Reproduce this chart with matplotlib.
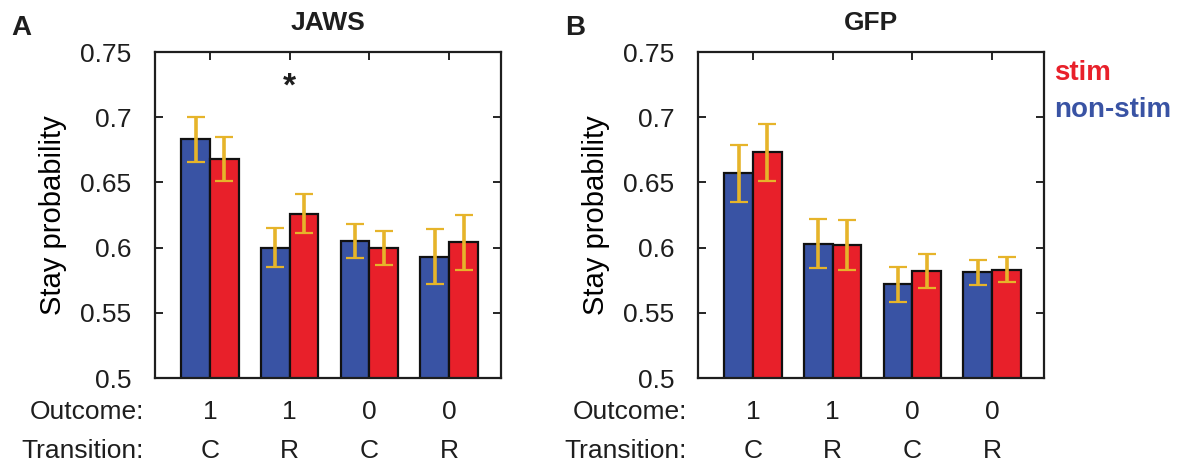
import matplotlib.pyplot as plt
import numpy as np

plt.rcParams['font.family'] = ['Liberation Sans', 'DejaVu Sans']
plt.rcParams['text.color'] = '#1e1e1e'
plt.rcParams['ytick.labelcolor'] = '#1e1e1e'

outcome = ['1', '1', '0', '0']
transition = ['C', 'R', 'C', 'R']
yticks = [0.5, 0.55, 0.6, 0.65, 0.7, 0.75]
ytick_labels = ['0.5', '0.55', '0.6', '0.65', '0.7', '0.75']

# JAWS panel
jaws_nonstim = [0.683, 0.600, 0.605, 0.593]
jaws_nonstim_err = [0.017, 0.015, 0.013, 0.021]
jaws_stim = [0.668, 0.626, 0.600, 0.604]
jaws_stim_err = [0.017, 0.015, 0.013, 0.021]

# GFP panel
gfp_nonstim = [0.657, 0.603, 0.572, 0.581]
gfp_nonstim_err = [0.022, 0.019, 0.0135, 0.0098]
gfp_stim = [0.673, 0.602, 0.582, 0.583]
gfp_stim_err = [0.022, 0.019, 0.013, 0.0095]

BLUE = '#3953a4'
RED = '#e8202a'
GOLD = '#e6b42a'
FS = 19


def panel(ax, nonstim, nonstim_err, stim, stim_err, title, letter, letter_x):
    x = np.arange(1, len(nonstim) + 1)
    w = 0.36
    ax.bar(x - w / 2, nonstim, w, bottom=0, color=BLUE, edgecolor='#111111', linewidth=1.6, zorder=2)
    ax.bar(x + w / 2, stim, w, bottom=0, color=RED, edgecolor='#111111', linewidth=1.6, zorder=2)
    for xs, ys, es in [(x - w / 2, nonstim, nonstim_err), (x + w / 2, stim, stim_err)]:
        ax.errorbar(xs, ys, yerr=es, fmt='none', ecolor=GOLD, elinewidth=2.6,
                    capsize=6.5, capthick=1.6, zorder=3)
    ax.set_xlim(0.31, 4.65)
    ax.set_ylim(0.5, 0.75)
    ax.set_yticks(yticks)
    ax.set_yticklabels(ytick_labels, fontsize=FS)
    ax.set_xticks(x)
    ax.set_xticklabels([])
    ax.tick_params(direction='in', length=6, width=1.2, top=True, right=True, pad=17)
    for s in ax.spines.values():
        s.set_linewidth(1.6)
        s.set_color('#1e1e1e')
    ax.set_ylabel('Stay probability', fontsize=21)
    ax.yaxis.set_label_coords(-0.255, 0.5)
    ax.set_title(title, fontsize=FS, fontweight='bold', pad=16)
    trans = ax.get_xaxis_transform()
    for xi, o, t in zip(x, outcome, transition):
        ax.text(xi, -0.104, o, transform=trans, ha='center', va='center', fontsize=FS)
        ax.text(xi, -0.224, t, transform=trans, ha='center', va='center', fontsize=FS)
    ax.text(-0.032, -0.104, 'Outcome:', transform=ax.transAxes, ha='right', va='center', fontsize=FS)
    ax.text(-0.032, -0.224, 'Transition:', transform=ax.transAxes, ha='right', va='center', fontsize=FS)
    ax.text(letter_x, 1.075, letter, transform=ax.transAxes, ha='left', va='center',
            fontsize=20, fontweight='bold')


fig = plt.figure(figsize=(12.02, 4.68), dpi=100)
ax1 = fig.add_axes([155 / 1202, 90 / 468, 346 / 1202, 326 / 468])
ax2 = fig.add_axes([698 / 1202, 90 / 468, 346 / 1202, 326 / 468])

panel(ax1, jaws_nonstim, jaws_nonstim_err, jaws_stim, jaws_stim_err, 'JAWS', 'A', -0.415)
panel(ax2, gfp_nonstim, gfp_nonstim_err, gfp_stim, gfp_stim_err, 'GFP', 'B', -0.385)

# significance marker over the second JAWS group
ax1.text(2, 0.723, '*', ha='center', va='center', fontsize=24, fontweight='bold')

fig.text(1054 / 1202, 1 - 73 / 468, 'stim', color=RED, fontsize=20, fontweight='bold',
         ha='left', va='center')
fig.text(1054 / 1202, 1 - 110 / 468, 'non-stim', color=BLUE, fontsize=20, fontweight='bold',
         ha='left', va='center')

fig.savefig('out.png', dpi=100)
